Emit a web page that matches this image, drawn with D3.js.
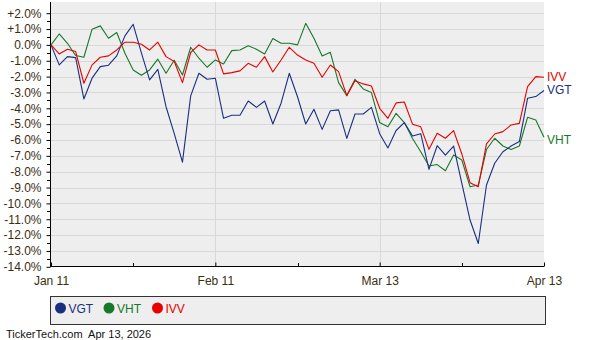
<!DOCTYPE html>
<html><head><meta charset="utf-8">
<script src="https://cdn.jsdelivr.net/npm/d3@7"></script>
<style>
html,body{margin:0;padding:0;background:#fff;}
svg{display:block;font-family:"Liberation Sans",Arial,sans-serif;}
</style></head>
<body><svg id="c" width="600" height="340"></svg>
<script>
const xTickLabels = ["Jan 11", "Feb 11", "Mar 13", "Apr 13"];
const xTickIndex = [0, 20, 40, 60];
const xMinorIndex = [10, 30, 50];
const yTicks = [2,1,0,-1,-2,-3,-4,-5,-6,-7,-8,-9,-10,-11,-12,-13,-14];
const seriesNames = ["VGT", "VHT", "IVV"];
const seriesColors = ["#1a2f80", "#18782a", "#e80000"];
const vgt = [0,-1.26,-0.74,-0.8,-3.41,-2.1,-1.37,-1.28,-0.69,0.57,1.3,-0.5,-2.21,-1.54,-3.9,-5.6,
  -7.4,-3.22,-1.79,-2.17,-2.1,-4.63,-4.44,-4.44,-3.54,-3.94,-3.54,-4.99,-3.68,-1.79,
  -3.27,-4.99,-4.06,-5.33,-4.15,-4.1,-5.9,-4.36,-4.36,-3.94,-5.6,-6.5,-5.4,-4.9,-5.75,-5.6,
  -7.85,-6.36,-6.95,-6.38,-8.74,-11.05,-12.53,-8.84,-7.47,-6.74,-6.38,-6.1,-3.37,-3.26,-2.88];
const vht = [0,0.69,0.1,-0.67,-0.78,0.99,1.2,0.42,0.78,-0.53,-1.58,-1.92,-1.58,-0.9,-1.79,-0.97,
  -1.9,-0.15,-0.84,-1.41,-0.95,-1.2,-0.36,-0.32,-0.06,-0.27,-0.57,0.4,0.1,0.1,
  0,1.36,0.42,-0.7,-0.47,-2.38,-3.2,-2.17,-2.78,-3.01,-4.9,-5.16,-4.32,-4.9,-5.9,-6.74,
  -7.64,-7.55,-7.94,-6.95,-7.26,-8.95,-8.84,-6.6,-5.89,-6.38,-6.6,-6.38,-4.57,-4.74,-5.83];
const ivv = [0,-0.57,-0.27,-0.42,-2.42,-1.26,-0.78,-0.69,-0.32,0.17,0.17,0.04,-0.32,0.17,-0.74,-1.05,
  -2.38,-0.48,0,-0.32,-0.32,-1.83,-1.75,-1.64,-1.16,-1.41,-0.74,-1.71,-0.95,-0.15,
  -0.64,-0.95,-1.16,-2.04,-1.27,-1.69,-3.2,-2.26,-2.46,-2.59,-4.0,-4.63,-3.66,-3.6,-5.0,-5.17,
  -6.59,-5.58,-5.89,-5.41,-6.88,-8.69,-8.95,-6.25,-5.62,-5.47,-5.05,-4.95,-2.63,-2.0,-2.04];
const seriesValues = [vgt, vht, ivv];
const footer = "TickerTech.com  Apr 13, 2026";

const svg = d3.select("#c");
const L = 51, R = 544, T = 2, B = 267;
const x = d3.scaleLinear().domain([0, 60]).range([L, R]);
const y = d3.scaleLinear().domain([-14, 2]).range([266.8, 13.2]);
const textCol = "#3a2e10";

svg.append("rect").attr("x", L).attr("y", T).attr("width", R - L).attr("height", B - T).attr("fill", "#eeeeee");

// horizontal grid
svg.append("g").selectAll("line").data(yTicks.filter(d => d > -14)).join("line")
  .attr("x1", L).attr("x2", R)
  .attr("y1", d => Math.round(y(d)) + 0.5).attr("y2", d => Math.round(y(d)) + 0.5)
  .attr("stroke", "#d8d8d8").attr("stroke-width", 1);
// vertical grid
svg.append("g").selectAll("line").data(xTickIndex.slice(1, 3)).join("line")
  .attr("x1", d => Math.round(x(d)) + 0.5).attr("x2", d => Math.round(x(d)) + 0.5)
  .attr("y1", T).attr("y2", B)
  .attr("stroke", "#d8d8d8").attr("stroke-width", 1);

// y axis
const yAxis = d3.axisLeft(y).tickValues(yTicks)
  .tickFormat(d => (d > 0 ? "+" : "") + d.toFixed(1) + "%").tickSize(4).tickPadding(5);
const gy = svg.append("g").attr("transform", `translate(${L - 0.5},0)`).call(yAxis);
gy.select(".domain").remove();
gy.selectAll("text").attr("fill", textCol).style("font-size", "12px")
  .style("font-family", '"Liberation Sans",Arial,sans-serif');
gy.selectAll("line").attr("stroke", "#000");
// minor y ticks
const minorY = d3.range(-13.5, 2.5, 1);
svg.append("g").selectAll("line").data(minorY).join("line")
  .attr("x1", L - 4).attr("x2", L)
  .attr("y1", d => Math.round(y(d)) + 0.5).attr("y2", d => Math.round(y(d)) + 0.5)
  .attr("stroke", "#000");

// x axis
const xAxis = d3.axisBottom(x).tickValues(xTickIndex)
  .tickFormat((d, i) => xTickLabels[i]).tickSize(-4).tickPadding(10);
const gx = svg.append("g").attr("transform", `translate(0,${B - 0.5})`).call(xAxis);
gx.select(".domain").remove();
gx.selectAll("text").attr("fill", textCol).style("font-size", "12px")
  .style("font-family", '"Liberation Sans",Arial,sans-serif');
gx.selectAll("line").attr("stroke", "#000");
svg.append("g").selectAll("line").data(xMinorIndex).join("line")
  .attr("x1", d => Math.round(x(d)) + 0.5).attr("x2", d => Math.round(x(d)) + 0.5)
  .attr("y1", B - 4).attr("y2", B).attr("stroke", "#000");

// axis lines
svg.append("line").attr("x1", L - 0.5).attr("x2", L - 0.5).attr("y1", T).attr("y2", B).attr("stroke", "#000");
svg.append("line").attr("x1", L - 1).attr("x2", R).attr("y1", B - 0.5).attr("y2", B - 0.5).attr("stroke", "#000");

// lines
const line = d3.line().x((d, i) => x(i)).y(d => y(d));
const drawOrder = [1, 0, 2];
drawOrder.forEach(k => {
  svg.append("path").datum(seriesValues[k]).attr("d", line)
    .attr("fill", "none").attr("stroke", seriesColors[k]).attr("stroke-width", 1.1)
    .attr("stroke-linejoin", "round");
});

// end labels
const endOffsets = [-1.5, 2.5, -1];
seriesNames.forEach((n, k) => {
  const v = seriesValues[k];
  svg.append("text").attr("x", R + 3).attr("y", y(v[v.length - 1]) + endOffsets[k] + 4.5)
    .attr("fill", seriesColors[k]).style("font-size", "12px").text(n);
});

// legend
svg.append("rect").attr("x", L - 0.5).attr("y", 296.5).attr("width", R - L + 2).attr("height", 28)
  .attr("fill", "#eeeeee").attr("stroke", "#333").attr("stroke-width", 1);
const legX = [60.5, 109, 157.5];
seriesNames.forEach((n, k) => {
  svg.append("circle").attr("cx", legX[k]).attr("cy", 308).attr("r", 5.5).attr("fill", seriesColors[k]);
  svg.append("text").attr("x", legX[k] + 8).attr("y", 312.5).attr("fill", seriesColors[k])
    .style("font-size", "12px").text(n);
});

svg.append("text").attr("x", 6).attr("y", 338).attr("fill", "#111").style("font-size", "11px")
  .attr("xml:space", "preserve").style("white-space", "pre").text(footer);
</script></body></html>
